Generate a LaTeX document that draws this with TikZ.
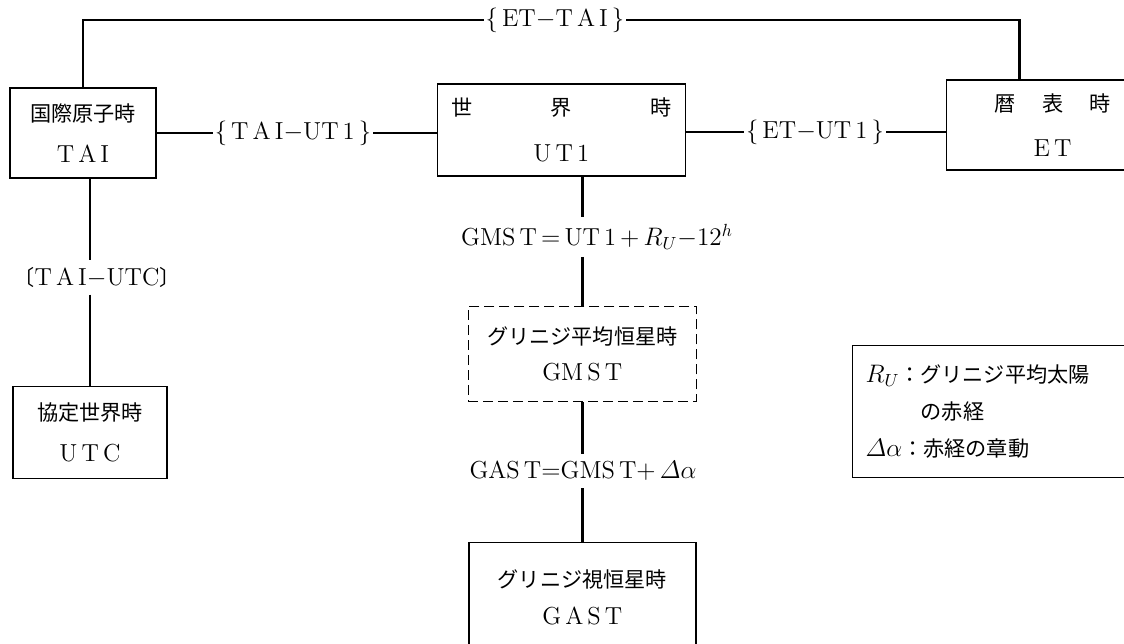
\documentclass[tikz,border=0pt]{standalone}
\usepackage{amsmath}
\usepackage{fontspec}
\newfontfamily\jp[Scale=0.86]{Noto Sans CJK JP}
\usetikzlibrary{positioning}

\begin{document}
\begin{tikzpicture}[
    x=0.02cm, y=-0.02cm,
    box/.style={
        draw, line width=0.8pt, rectangle,
        inner sep=2pt, align=center,
        font=\fontsize{14}{21}\selectfont,
    },
    dbox/.style={box, dash pattern=on 0.2cm off 0.1cm},
    lbl/.style={
        inner xsep=1pt, inner ysep=4pt,
        font=\fontsize{14}{21}\selectfont,
    },
    note/.style={
        draw, line width=0.8pt, rectangle,
        inner xsep=0.26cm, text width=5.5cm, align=left,
        minimum height=2.64cm,
        font=\fontsize{14}{21}\selectfont,
    },
    link/.style={line width=1.6pt},
]
\useasboundingbox (0,0) rectangle (1124,643);

% Time scales
\node[box, minimum width=2.92cm, minimum height=1.8cm] (tai) at (83,133)
    {{\jp 国際原子時}\\[2pt]T\,A\,I};
\node[box, minimum width=4.96cm, minimum height=1.84cm, right=5.6cm of tai, yshift=0.06cm] (ut1)
    {\makebox[4.4cm]{\jp 世\hfill 界\hfill 時}\\[5pt]U\,T\,1};
\node[box, minimum width=4.24cm, minimum height=1.8cm, right=5.2cm of ut1, yshift=0.1cm] (et)
    {\makebox[2.34cm]{\jp 暦\hfill 表\hfill 時}\\[5pt]E\,T};
\node[box, minimum width=3.08cm, minimum height=1.84cm, below=4.14cm of tai, xshift=0.14cm] (utc)
    {{\jp 協定世界時}\\[2pt]U\,T\,C};
\node[dbox, minimum width=4.56cm, minimum height=1.9cm, below=2.58cm of ut1, xshift=0.42cm] (gmst)
    {{\jp グリニジ平均恒星時}\\GM\,S\,T};
\node[box, minimum width=4.54cm, minimum height=2.2cm, below=2.8cm of gmst] (gast)
    {{\jp グリニジ視恒星時}\\G\,A\,S\,T};

% Differences
\node[lbl] (ettai) at (555,20) {\{\,ET${-}$T\,A\,I\,\}};
\node[lbl] (taiut1) at (293,133) {\{\,T\,A\,I${-}$UT\,1\,\}};
\node[lbl] (etut1) at (815,132) {\{\,ET${-}$UT\,1\,\}};
\node[lbl] (taiutc) at (97,277) {{\jp 〔}T\,A\,I${-}$UTC{\jp 〕}};
\node[lbl] (gmsteq) at (597,237) {GMS\,T\,${=}$\,UT\,1\,${+}\,R_U{-}12^h$};
\node[lbl] (gasteq) at (583,471) {GAS\,T${=}$GMS\,T${+}\,\varDelta\alpha$};

% Legend
\node[note, anchor=north west] (legend) at (852,345)
    {$R_U${\jp ：グリニジ平均太陽}\\
     \hspace*{1.1cm}{\jp の赤経}\\
     $\varDelta\alpha${\jp ：赤経の章動}};

% Links
\coordinate (etjoin) at ([xshift=-0.66cm]et.north);
\draw[link] (tai.north) |- (ettai.west);
\draw[link] (ettai.east) -| (etjoin);
\draw[link] (tai.east) -- (taiut1.west);
\draw[link] (taiut1.east) -- (taiut1.east -| ut1.west);
\draw[link] (ut1.east |- etut1) -- (etut1.west);
\draw[link] (etut1.east) -- (etut1.east -| et.west);
\draw[link] (tai.south -| utc.north) -- (taiutc.north -| utc.north);
\draw[link] (taiutc.south -| utc.north) -- (utc.north);
\draw[link] (ut1.south -| gmst.north) -- (gmsteq.north -| gmst.north);
\draw[link] (gmsteq.south -| gmst.north) -- (gmst.north);
\draw[link] (gmst.south) -- (gasteq.north -| gmst.south);
\draw[link] (gasteq.south -| gmst.south) -- (gast.north -| gmst.south);

\end{tikzpicture}
\end{document}
